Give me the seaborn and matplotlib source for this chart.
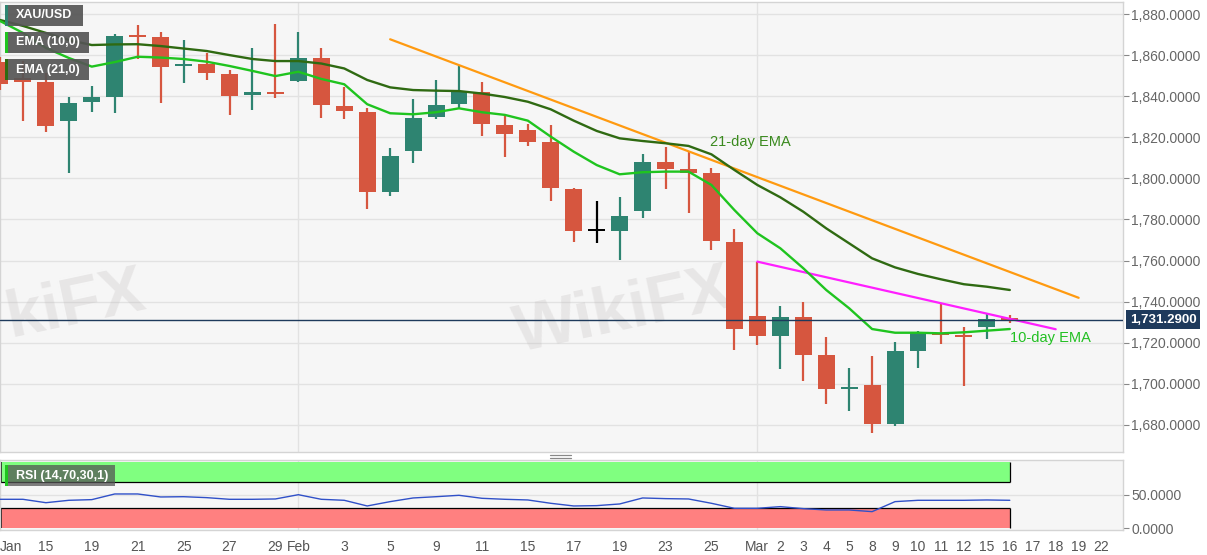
import numpy as np
import pandas as pd
import seaborn as sns
import matplotlib.pyplot as plt
import matplotlib.transforms as mtransforms
from matplotlib.patches import Rectangle
from matplotlib.lines import Line2D

# daily XAU/USD candles, Jan 13 - Mar 16 2021
dates = ["Jan 13", "Jan 14", "Jan 15", "Jan 18", "Jan 19", "Jan 20", "Jan 21", "Jan 22",
         "Jan 25", "Jan 26", "Jan 27", "Jan 28", "Jan 29",
         "Feb 1", "Feb 2", "Feb 3", "Feb 4", "Feb 5", "Feb 8", "Feb 9", "Feb 10", "Feb 11",
         "Feb 12", "Feb 15", "Feb 16", "Feb 17", "Feb 18", "Feb 19", "Feb 22", "Feb 23",
         "Feb 24", "Feb 25", "Feb 26",
         "Mar 1", "Mar 2", "Mar 3", "Mar 4", "Mar 5", "Mar 8", "Mar 9", "Mar 10", "Mar 11",
         "Mar 12", "Mar 15", "Mar 16"]
opens = [1856.5, 1848.9, 1847.1, 1828.1, 1837.0, 1839.8, 1869.4, 1868.7, 1854.8, 1855.5,
         1850.8, 1840.6, 1841.9, 1847.4, 1858.4, 1835.4, 1832.5, 1793.2, 1813.3, 1829.7,
         1836.1, 1842.2, 1826.0, 1823.6, 1817.6, 1794.8, 1774.5, 1774.5, 1784.0, 1808.0,
         1804.6, 1802.5, 1769.2, 1733.0, 1723.5, 1732.7, 1714.1, 1697.5, 1699.5, 1680.5,
         1716.2, 1724.9, 1723.8, 1727.5, 1731.4]
highs = [1859.0, 1857.0, 1851.4, 1839.8, 1845.0, 1870.1, 1874.6, 1871.1, 1867.3, 1861.2,
         1852.7, 1863.6, 1875.1, 1871.1, 1863.3, 1844.6, 1834.1, 1814.6, 1838.6, 1847.9,
         1854.7, 1847.1, 1830.9, 1826.5, 1826.0, 1795.2, 1789.0, 1791.1, 1811.9, 1815.4,
         1813.0, 1804.9, 1775.2, 1759.5, 1737.9, 1739.7, 1722.7, 1707.6, 1713.6, 1720.5,
         1725.7, 1739.5, 1727.5, 1734.0, 1733.5]
lows = [1843.0, 1828.0, 1822.7, 1802.5, 1832.5, 1832.0, 1858.0, 1836.8, 1846.6, 1847.9,
        1830.9, 1833.3, 1839.3, 1846.9, 1829.2, 1828.9, 1785.0, 1791.6, 1807.3, 1828.8,
        1834.1, 1820.6, 1810.3, 1815.9, 1789.2, 1769.2, 1768.4, 1760.3, 1780.6, 1794.8,
        1783.3, 1765.2, 1716.5, 1718.9, 1707.1, 1701.6, 1690.2, 1687.0, 1676.3, 1679.5,
        1707.9, 1719.3, 1699.1, 1721.7, 1729.5]
closes = [1846.0, 1846.9, 1825.5, 1836.5, 1839.8, 1869.4, 1869.0, 1854.1, 1855.7, 1851.1,
          1840.2, 1841.9, 1841.2, 1858.4, 1835.7, 1832.9, 1793.2, 1810.9, 1829.4, 1835.6,
          1842.2, 1826.3, 1821.5, 1817.9, 1795.2, 1774.5, 1774.5, 1781.7, 1808.0, 1804.6,
          1802.5, 1769.5, 1726.7, 1723.5, 1732.7, 1714.1, 1697.4, 1697.9, 1680.5, 1716.0,
          1724.9, 1723.8, 1723.0, 1731.4, 1731.29]

ema10 = [1876.6, 1870.8, 1863.5, 1858.6, 1854.4, 1856.6, 1859.2, 1858.8, 1858.1, 1856.8,
         1854.7, 1852.3, 1849.8, 1851.9, 1848.4, 1845.8, 1836.1, 1831.7, 1831.2, 1832.2,
         1834.1, 1832.2, 1830.9, 1828.1, 1820.3, 1813.0, 1806.5, 1802.0, 1803.0, 1803.3,
         1803.3, 1796.8, 1784.6, 1773.3, 1766.0, 1756.3, 1745.7, 1736.8, 1726.7, 1724.9,
         1724.9, 1724.6, 1725.1, 1725.9, 1726.7]
ema21 = [1877.1, 1874.2, 1870.8, 1867.3, 1864.9, 1865.2, 1865.3, 1864.4, 1863.2, 1862.0,
         1860.0, 1858.1, 1857.1, 1857.1, 1855.9, 1853.5, 1847.9, 1844.3, 1843.0, 1842.7,
         1842.5, 1841.3, 1839.6, 1837.3, 1833.6, 1828.1, 1823.1, 1819.5, 1818.2, 1817.1,
         1815.8, 1811.7, 1804.1, 1796.8, 1790.8, 1783.8, 1775.7, 1768.4, 1761.1, 1756.7,
         1753.5, 1750.9, 1748.5, 1747.3, 1745.7]
rsi = [43.5, 43.5, 38.4, 42.0, 43.0, 51.5, 51.5, 47.0, 47.4, 46.0,
       43.5, 43.5, 44.0, 50.4, 43.5, 42.0, 33.5, 40.0, 45.5, 47.4,
       49.5, 45.0, 43.5, 42.5, 37.5, 33.5, 34.0, 36.5, 45.5, 44.5,
       44.0, 37.5, 30.0, 30.0, 32.5, 29.5, 27.5, 27.5, 25.0, 40.0,
       42.0, 42.0, 42.0, 42.5, 42.0]

# trend lines (day index, price)
upper_trend_x = [17, 47]
upper_trend_y = [1867.7, 1741.9]
lower_trend_x = [33, 46]
lower_trend_y = [1759.5, 1726.6]
last_price = 1731.29

# x axis labels (day index -> text)
tick_pos = [0, 2, 4, 6, 8, 10, 12, 13, 15, 17, 19, 21, 23, 25, 27, 29, 31,
            33, 34, 35, 36, 37, 38, 39, 40, 41, 42, 43, 44, 45, 46, 47, 48]
tick_text = ["Jan", "15", "19", "21", "25", "27", "29", "Feb", "3", "5", "9", "11", "15",
             "17", "19", "23", "25", "Mar", "2", "3", "4", "5", "8", "9", "10", "11", "12",
             "15", "16", "17", "18", "19", "22"]

df = pd.DataFrame({"date": dates, "open": opens, "high": highs, "low": lows,
                   "close": closes, "ema10": ema10, "ema21": ema21, "rsi": rsi})
df["i"] = np.arange(len(df))

sns.set_theme(style="white")
plt.rcParams["font.family"] = ["Liberation Sans", "DejaVu Sans"]

W, H = 1207, 555
fig = plt.figure(figsize=(W / 100, H / 100), dpi=100)
fig.patch.set_facecolor("white")


def fx(px):
    return px / W


def fy(py):
    return 1 - py / H


xmax = 1123 / 22.95
ax = fig.add_axes([0, fy(452), fx(1123), (452 - 2) / H])
rax = fig.add_axes([0, fy(530), fx(1123), 70 / H])

RED = "#d6563f"
GREEN = "#2e8471"
GRID = "#e2e2e2"

for a in (ax, rax):
    a.set_facecolor("#f6f6f6")
    a.set_xlim(0, xmax)
    for s in a.spines.values():
        s.set_color("#d4d4d4")
        s.set_linewidth(1)
    a.axvline(13, color=GRID, lw=1, zorder=0)
    a.axvline(33, color=GRID, lw=1, zorder=0)
    a.yaxis.tick_right()
    a.tick_params(axis="y", colors="#888888", labelcolor="#666666", length=4,
                  width=0.8, labelsize=10, pad=2, direction="out")

# ---- price panel
ax.set_ylim(1666.86, 1885.84)
yt = np.arange(1680, 1881, 20)
ax.set_yticks(yt)
ax.set_yticklabels([f"{v:,.4f}" for v in yt])
for v in yt:
    ax.axhline(v, color=GRID, lw=1, zorder=0)
ax.set_xticks([])

# watermark
ax.text(0.555, 0.31, "WikiFX", transform=ax.transAxes, fontsize=48, fontweight="bold",
        color="#bdb8b8", alpha=0.25, rotation=12, ha="center", va="center", zorder=1)
ax.text(0.0, 0.325, "kiFX", transform=ax.transAxes, fontsize=48, fontweight="bold",
        color="#bdb8b8", alpha=0.25, rotation=12, ha="left", va="center", zorder=1)

cols = [GREEN if c > o else (RED if c < o else "black") for o, c in zip(df.open, df.close)]
body_lo = np.minimum(df.open, df.close)
body_h = np.maximum(np.abs(df.close - df.open), 0.8)
ax.vlines(df.i, df.low, df.high, colors=cols, lw=1.6, zorder=3)
ax.bar(df.i, body_h, bottom=body_lo, width=0.74, color=cols, zorder=4, linewidth=0)

sns.lineplot(x=upper_trend_x, y=upper_trend_y, ax=ax, color="#ff9a10", lw=1.6, zorder=5)
sns.lineplot(x=lower_trend_x, y=lower_trend_y, ax=ax, color="#ff1fff", lw=1.6, zorder=5)
sns.lineplot(data=df, x="i", y="ema21", ax=ax, color="#2f6a12", lw=1.7, zorder=6)
sns.lineplot(data=df, x="i", y="ema10", ax=ax, color="#1fc41f", lw=1.7, zorder=6)
ax.set_xlabel("")
ax.set_ylabel("")

ax.axhline(last_price, color="#1e3a5c", lw=1, zorder=7)
trans = mtransforms.blended_transform_factory(ax.transAxes, ax.transData)
ax.text(1.006, last_price, f"{last_price:,.4f}", transform=trans, ha="left", va="center",
        color="white", fontsize=9.5, fontweight="bold", clip_on=False,
        bbox=dict(boxstyle="square,pad=0.25", fc="#1e3a5c", ec="none"))

ax.text(30.95, 1817.5, "21-day EMA", color="#3a8a1e", fontsize=10.5, va="center", zorder=8)
ax.text(44.0, 1722.5, "10-day EMA", color="#22c022", fontsize=10.5, va="center", zorder=8)

# ---- RSI panel
rax.set_ylim(-2.55, 102.45)
rax.set_yticks([0, 50])
rax.set_yticklabels(["0.0000", "50.0000"])
rax.axhline(50, color=GRID, lw=1, zorder=0)
rax.fill_between([0, 44], 70, 100, color="#80ff80", lw=0, zorder=1)
rax.fill_between([0, 44], 0, 30, color="#ff8080", lw=0, zorder=1)
rax.hlines([70, 30], 0, 44, colors="black", lw=0.9, zorder=2)
rax.vlines([44, 44], [70, 0], [100, 30], colors="black", lw=0.9, zorder=2)
rax.vlines([0.03, 0.03], [70, 0], [100, 30], colors="black", lw=1.2, zorder=2)
sns.lineplot(data=df, x="i", y="rsi", ax=rax, color="#3050c8", lw=1, zorder=3)
rax.set_xlabel("")
rax.set_ylabel("")
rax.set_xticks(tick_pos)
rax.set_xticklabels(tick_text)
rax.tick_params(axis="x", colors="#999999", labelcolor="#555555", length=4, width=0.8,
                labelsize=10, pad=3, direction="out")
rax.get_xticklabels()[0].set_ha("left")

# legend boxes
def tag(x0, y0, w, h, text, stripe, alpha=0.92):
    fig.patches.append(Rectangle((fx(x0), fy(y0 + h)), fx(w), h / H, transform=fig.transFigure,
                                 fc="#555555", ec="none", alpha=alpha, zorder=10))
    fig.patches.append(Rectangle((fx(x0), fy(y0 + h)), fx(2.5), h / H, transform=fig.transFigure,
                                 fc=stripe, ec="none", zorder=11))
    fig.text(fx(x0 + 11), fy(y0 + h / 2), text, color="white", fontsize=9,
             fontweight="bold", va="center", ha="left", zorder=12)


tag(5, 5, 78, 21, "XAU/USD", "#2e8471")
tag(5, 32, 84, 21, "EMA (10,0)", "#1fc41f")
tag(5, 59, 84, 21, "EMA (21,0)", "#2f6a12")
tag(5, 465, 110, 21, "RSI (14,70,30,1)", "#1fc41f", alpha=0.75)

# splitter handle
for yy in (455, 458):
    fig.add_artist(Line2D([fx(550), fx(571)], [fy(yy), fy(yy)], color="#888888", lw=0.9))

fig.savefig("out.png", dpi=100)
